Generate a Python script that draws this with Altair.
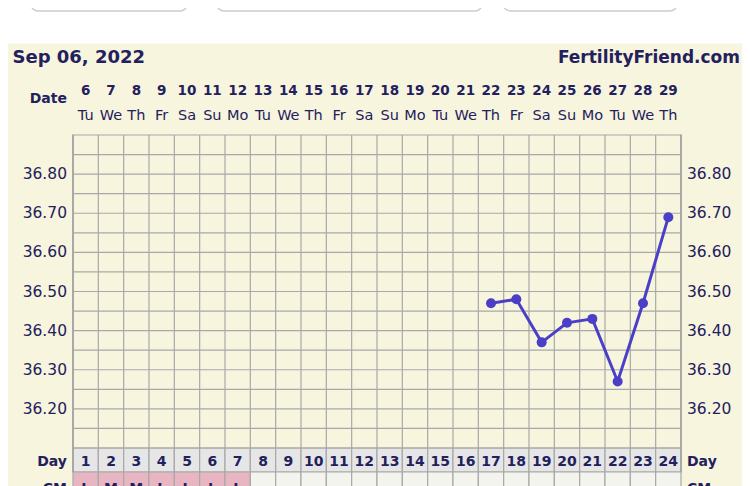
import altair as alt
import pandas as pd

# ---------------- data ----------------
cycle_days = list(range(1, 25))
dates = [6, 7, 8, 9, 10, 11, 12, 13, 14, 15, 16, 17, 18, 19, 20, 21, 22, 23, 24, 25, 26, 27, 28, 29]
weekdays = ["Tu", "We", "Th", "Fr", "Sa", "Su", "Mo", "Tu", "We", "Th", "Fr", "Sa",
            "Su", "Mo", "Tu", "We", "Th", "Fr", "Sa", "Su", "Mo", "Tu", "We", "Th"]
temp_days = [17, 18, 19, 20, 21, 22, 23, 24]
temps = [36.47, 36.48, 36.37, 36.42, 36.43, 36.27, 36.47, 36.69]
cm_days = [1, 2, 3, 4, 5, 6, 7]
cm_values = ["L", "M", "M", "L", "L", "L", "L"]
y_tick_labels = [36.20, 36.30, 36.40, 36.50, 36.60, 36.70, 36.80]
y_grid = [36.10, 36.15, 36.20, 36.25, 36.30, 36.35, 36.40, 36.45, 36.50, 36.55,
          36.60, 36.65, 36.70, 36.75, 36.80, 36.85, 36.90]
title_text = "Sep 06, 2022"
brand_text = "FertilityFriend.com"

# ---------------- styling ----------------
W, H = 734, 478
CREAM = "#F7F5DD"
NAVY = "#23205E"
GRID = "#A8A8A8"
LINE = "#4A3FC6"
FONT = "DejaVu Sans"

xs = alt.Scale(domain=[0.5, 24.5], range=[65, 673])
ys = alt.Scale(domain=[36.10, 36.90], range=[440, 127])

days_df = pd.DataFrame({
    "day": cycle_days, "date": [str(d) for d in dates], "wd": weekdays,
    "x0": [d - 0.5 for d in cycle_days], "x1": [d + 0.5 for d in cycle_days],
})
days_df["cm"] = ["pink" if d in cm_days else "none" for d in cycle_days]
days_df["cmtxt"] = [cm_values[cm_days.index(d)] if d in cm_days else "" for d in cycle_days]
temp_df = pd.DataFrame({"day": temp_days, "temp": temps})
vgrid_df = pd.DataFrame({"xg": [d - 0.5 for d in cycle_days] + [24.5]})
hgrid_df = pd.DataFrame({"yg": y_grid})
ylab_df = pd.DataFrame({"t": y_tick_labels, "lab": [f"{v:.2f}" for v in y_tick_labels]})
one = pd.DataFrame({"k": [0]})

X = lambda f: alt.X(f, type="quantitative", scale=xs, axis=None)
Y = lambda f: alt.Y(f, type="quantitative", scale=ys, axis=None)

layers = []

# page decorations: rounded boxes at top
for bx0, bx1 in [(23, 179), (209, 474), (495.5, 669)]:
    layers.append(alt.Chart(one).mark_rect(
        fill="white", stroke="#CCCCCC", strokeWidth=1.5, cornerRadius=7
    ).encode(x=alt.value(bx0), x2=alt.value(bx1), y=alt.value(-40), y2=alt.value(3)))

# cream background
layers.append(alt.Chart(one).mark_rect(fill=CREAM).encode(
    x=alt.value(-5), x2=alt.value(W + 20), y=alt.value(35.5), y2=alt.value(H + 20)))

# day row cells
layers.append(alt.Chart(days_df).mark_rect(fill="#E6E6E6", stroke=GRID, strokeWidth=1.2).encode(
    x=X("x0"), x2=alt.X2("x1"), y=alt.value(440), y2=alt.value(464)))
# CM row cells
layers.append(alt.Chart(days_df).mark_rect(stroke=GRID, strokeWidth=1.2).encode(
    x=X("x0"), x2=alt.X2("x1"), y=alt.value(464), y2=alt.value(H + 20),
    fill=alt.Fill("cm:N", scale=alt.Scale(domain=["pink", "none"], range=["#E8B6C3", "#F4F4EF"]), legend=None)))

# grid
layers.append(alt.Chart(hgrid_df).mark_rule(color=GRID, strokeWidth=1.2).encode(
    y=Y("yg"), x=alt.value(65), x2=alt.value(673)))
layers.append(alt.Chart(vgrid_df).mark_rule(color=GRID, strokeWidth=1.2).encode(
    x=X("xg"), y=alt.value(127), y2=alt.value(440)))
layers.append(alt.Chart(pd.DataFrame({"xg": [0.5, 24.5]})).mark_rule(color=GRID, strokeWidth=2).encode(
    x=X("xg"), y=alt.value(126.5), y2=alt.value(464)))

# temperature line + points
layers.append(alt.Chart(temp_df).mark_line(color=LINE, strokeWidth=3).encode(x=X("day"), y=Y("temp")))
layers.append(alt.Chart(temp_df).mark_circle(color=LINE, size=100, opacity=1).encode(x=X("day"), y=Y("temp")))

# y labels left & right
layers.append(alt.Chart(ylab_df).mark_text(align="right", baseline="middle", font=FONT, fontSize=15.5, color=NAVY).encode(
    y=Y("t"), x=alt.value(59), text="lab:N"))
layers.append(alt.Chart(ylab_df).mark_text(align="left", baseline="middle", font=FONT, fontSize=15.5, color=NAVY).encode(
    y=Y("t"), x=alt.value(679), text="lab:N"))

# header: dates, weekdays
layers.append(alt.Chart(days_df).mark_text(align="center", baseline="alphabetic", font=FONT, fontSize=13.5,
                                          fontWeight="bold", color=NAVY).encode(
    x=X("day"), y=alt.value(87), text="date:N"))
layers.append(alt.Chart(days_df).mark_text(align="center", baseline="alphabetic", font=FONT, fontSize=14.5,
                                          color=NAVY).encode(
    x=X("day"), y=alt.value(111.5), text="wd:N"))
# day numbers
layers.append(alt.Chart(days_df).mark_text(align="center", baseline="alphabetic", font=FONT, fontSize=14,
                                          fontWeight="bold", color=NAVY).encode(
    x=X("day"), y=alt.value(457.5), text="day:N"))
# CM letters
layers.append(alt.Chart(days_df).mark_text(align="center", baseline="alphabetic", font=FONT, fontSize=14,
                                          fontWeight="bold", color=NAVY).encode(
    x=X("day"), y=alt.value(485), text="cmtxt:N"))

# static labels
def label(txt, x, y, align, size, weight="bold"):
    return alt.Chart(one).mark_text(text=txt, align=align, baseline="alphabetic", font=FONT,
                                    fontSize=size, fontWeight=weight, color=NAVY).encode(
        x=alt.value(x), y=alt.value(y))

layers += [
    label(title_text, 4.5, 55, "left", 18),
    label(brand_text, 732, 55, "right", 17),
    label("Date", 59, 94.5, "right", 14),
    label("Day", 59, 457.5, "right", 14),
    label("Day", 679, 457.5, "left", 14),
    label("CM", 59, 485, "right", 14),
    label("CM", 679, 485, "left", 14),
]

chart = alt.layer(*layers).properties(
    width=W, height=H, autosize=alt.AutoSizeParams(type="none"), padding=0, background="white"
).configure_view(stroke=None)

chart.save("out.html", embed_options={"renderer": "svg", "actions": False})
